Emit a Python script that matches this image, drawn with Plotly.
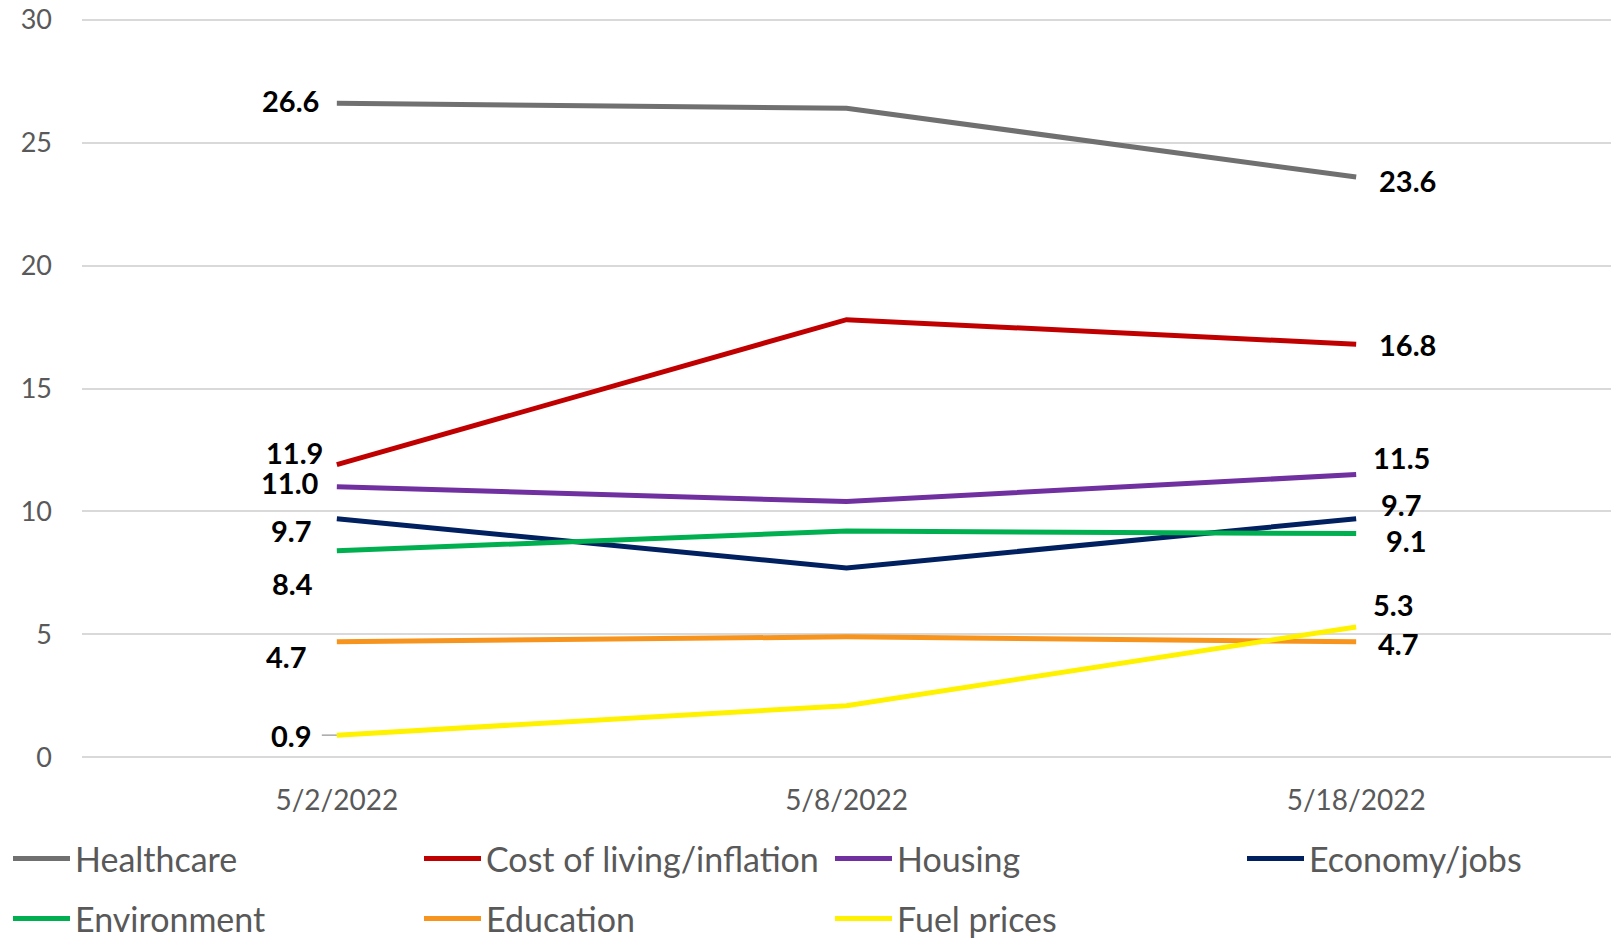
import plotly.graph_objects as go

categories = ["5/2/2022", "5/8/2022", "5/18/2022"]
series_names = ["Healthcare", "Cost of living/inflation", "Housing", "Economy/jobs",
                "Environment", "Education", "Fuel prices"]
healthcare = [26.6, 26.4, 23.6]
cost_of_living = [11.9, 17.8, 16.8]
housing = [11.0, 10.4, 11.5]
economy = [9.7, 7.7, 9.7]
environment = [8.4, 9.2, 9.1]
education = [4.7, 4.9, 4.7]
fuel = [0.9, 2.1, 5.3]
y_ticks = [0, 5, 10, 15, 20, 25, 30]

values = [healthcare, cost_of_living, housing, economy, environment, education, fuel]
colors = ["#707070", "#C00000", "#7030A0", "#002060", "#00B050", "#F7941D", "#FFF200"]

# label offsets in pixels (style)
left_shift = [(-46, 3), (-42, 12), (-47, 4), (-45, -12), (-44, -33), (-50, -15), (-45, 0)]
right_shift = [(51, -3), (51, 0), (45, 17), (45, 14), (50, -7), (42, -2), (37, 22)]

W, H = 1620, 939
PAD = 0.07  # y-range padding so the edge gridlines are kept
L, R = 82, 9
T, B = 18, 180
ITEM_W = 57
text_x = [75, 486, 897, 1309, 75, 486, 897]
row_y = [859, 859, 859, 859, 919, 919, 919]

fig = go.Figure()
for i, (name, vals, col) in enumerate(zip(series_names, values, colors)):
    lg = "legend" if i == 0 else f"legend{i+1}"
    fig.add_trace(go.Scatter(
        x=categories, y=vals, name=name, mode="lines",
        line=dict(color=col, width=5), legend=lg, hoverinfo="skip"))

font_fam = "Lato, 'Noto Sans', sans-serif"

for i, vals in enumerate(values):
    for idx, (dx, dy) in ((0, left_shift[i]), (2, right_shift[i])):
        fig.add_annotation(
            x=categories[idx], y=vals[idx], text=f"{vals[idx]:.1f}",
            showarrow=False, xanchor="center", yanchor="middle",
            xshift=dx, yshift=dy,
            font=dict(family=font_fam, size=29, color="#000000", weight="bold"))

# leader line for the fuel label
fig.add_shape(type="line", xref="x", yref="y", xsizemode="pixel", xanchor=categories[0],
              x0=-15, x1=0, y0=fuel[0], y1=fuel[0],
              line=dict(color="#A6A6A6", width=1.5), layer="below")

legends = {}
for i in range(7):
    key = "legend" if i == 0 else f"legend{i+1}"
    legends[key] = dict(
        xref="container", yref="container",
        x=(text_x[i] - ITEM_W - 10) / W, xanchor="left",
        y=1 - row_y[i] / H, yanchor="middle",
        orientation="h", bgcolor="rgba(0,0,0,0)", itemwidth=ITEM_W,
        font=dict(family=font_fam, size=34, color="#595959"))

fig.update_layout(
    width=W, height=H,
    margin=dict(l=L, r=R, t=T, b=B, autoexpand=False),
    paper_bgcolor="white", plot_bgcolor="white",
    showlegend=True,
    xaxis=dict(type="category", range=[-0.5, 2.5], showgrid=False, zeroline=False,
               showline=False, ticks="", ticklabelstandoff=22,
               tickfont=dict(family=font_fam, size=28, color="#595959")),
    yaxis=dict(range=[y_ticks[0] - PAD, y_ticks[-1] + PAD], tickvals=y_ticks,
               showgrid=True, gridcolor="#D9D9D9",
               gridwidth=1.5, zeroline=False, showline=False, ticks="",
               ticklabelstandoff=29, ticklabeloverflow="allow",
               tickfont=dict(family=font_fam, size=27, color="#595959")),
    **legends,
)

fig.write_html("out.html", config={"displayModeBar": False},
               post_script="document.body.style.margin='0px';"
                           "document.body.style.overflow='hidden';")
